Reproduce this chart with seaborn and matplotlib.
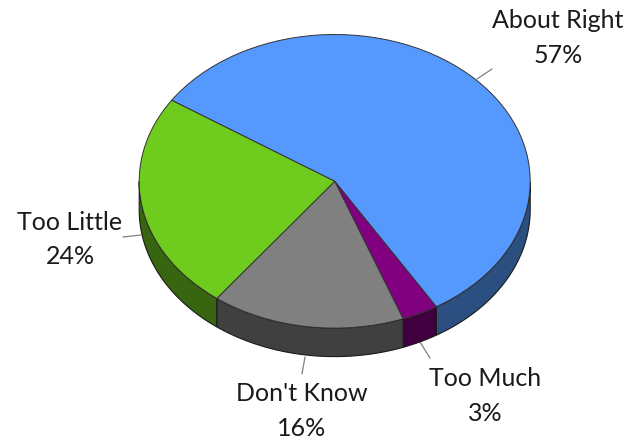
import numpy as np
import matplotlib
matplotlib.use("Agg")
import matplotlib.pyplot as plt
import seaborn as sns

categories = ["About Right", "Too Much", "Don't Know", "Too Little"]
values = [57, 3, 16, 24]
top_colors = ["#5599FF", "#800080", "#808080", "#6FCC1F"]
side_colors = ["#2B4F80", "#400040", "#404040", "#386610"]

sns.set_theme(style="white")
plt.rcParams["font.family"] = ["Lato", "DejaVu Sans"]

W, H = 630, 439
CX, CY, RX, RY, DEPTH = 334.7, 182.3, 195.5, 146.8, 28.5
START = 146.5

fig = plt.figure(figsize=(W / 100, H / 100), dpi=100, facecolor="white")
ax = fig.add_axes([0, 0, 1, 1])

# Side wall, computed from the slice angles
total = sum(values)
ang = START
dp = DEPTH / RY
for v, c in zip(values, side_colors):
    a0, a1 = ang, ang - 360 * v / total
    ang = a1
    th = np.radians(np.linspace(a0, a1, 300))
    th = th[np.sin(th) <= 0]
    if len(th) == 0:
        continue
    x, y = np.cos(th), np.sin(th)
    ax.fill(np.r_[x, x[::-1]], np.r_[y, y[::-1] - dp], facecolor=c,
            edgecolor="#1a1a1a", linewidth=0.8, zorder=1)

# Top face
wedges, _ = ax.pie(values, colors=top_colors, startangle=START, counterclock=False,
                   radius=1, center=(0, 0), normalize=True,
                   wedgeprops=dict(edgecolor="#333333", linewidth=0.7, zorder=2))
for w in wedges:
    w.set_zorder(2)

ax.set_aspect("auto")
ax.set_frame_on(False)
ax.set_xticks([])
ax.set_yticks([])
ax.set_xlim(-CX / RX, (W - CX) / RX)
ax.set_ylim(-(H - CY) / RY, CY / RY)

def px(x, y):
    return (x - CX) / RX, (CY - y) / RY

# Labels and leader lines (pixel anchors)
label_pos = {"About Right": (558, 38), "Too Much": (485.5, 396),
             "Don't Know": (301.5, 411), "Too Little": (70, 239.5)}
leaders = {"About Right": ((477, 80), (492, 70)), "Too Much": ((420, 343), (430, 359)),
           "Don't Know": ((305, 358), (302, 375)), "Too Little": ((141, 236), (123, 238))}
for name, v in zip(categories, values):
    lx, ly = label_pos[name]
    ax.text(*px(lx, ly), f"{name}\n{v}%", ha="center", va="center", fontsize=18,
            color="#1a1a1a", linespacing=1.62, zorder=5)
    (x0, y0), (x1, y1) = leaders[name]
    p0, p1 = px(x0, y0), px(x1, y1)
    ax.plot([p0[0], p1[0]], [p0[1], p1[1]], color="#808080", lw=0.9, zorder=0.5)

fig.savefig("out.png", dpi=100, facecolor="white")
